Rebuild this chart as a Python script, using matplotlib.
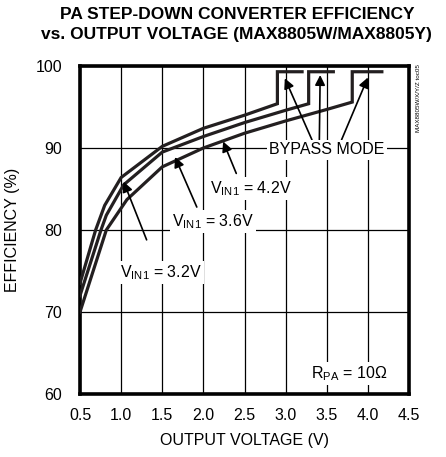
import matplotlib.pyplot as plt
import numpy as np

# efficiency curves
x_32 = [0.5, 0.69, 0.80, 1.0, 1.5, 2.0, 2.5, 2.9, 2.9, 3.2]
y_32 = [73.5, 80.0, 83.0, 86.4, 90.2, 92.4, 94.0, 95.4, 99.3, 99.3]
x_36 = [0.5, 0.755, 0.82, 1.03, 1.5, 2.0, 2.5, 3.0, 3.28, 3.28, 3.58]
y_36 = [72.0, 80.0, 81.8, 85.5, 89.5, 91.4, 93.1, 94.6, 95.4, 99.3, 99.3]
x_42 = [0.5, 0.82, 1.07, 1.5, 2.0, 2.5, 3.0, 3.5, 3.81, 3.81, 4.17]
y_42 = [70.0, 80.0, 83.7, 87.7, 90.0, 91.8, 93.3, 94.7, 95.6, 99.3, 99.3]

xticks = [0.5, 1.0, 1.5, 2.0, 2.5, 3.0, 3.5, 4.0, 4.5]
yticks = [60, 70, 80, 90, 100]

plt.rcParams['font.family'] = ['Liberation Sans', 'DejaVu Sans']
plt.rcParams['mathtext.fontset'] = 'custom'
plt.rcParams['mathtext.rm'] = 'Liberation Sans'

fig = plt.figure(figsize=(4.46, 4.57), dpi=100)
ax = fig.add_axes([80/446, 1-394/457, 329/446, 328/457])

for xs, ys in [(x_32, y_32), (x_36, y_36), (x_42, y_42)]:
    ax.plot(xs, ys, color='#231f20', lw=2.3, solid_joinstyle='miter', zorder=3)

ax.set_xlim(0.5, 4.5)
ax.set_ylim(60, 100)
ax.set_xticks(xticks)
ax.set_xticklabels(['%.1f' % v for v in xticks])
ax.set_yticks(yticks)
ax.tick_params(length=0, labelsize=11.5, pad=10)
ax.tick_params(axis='y', pad=13)
ax.grid(True, color='black', lw=0.9)
for s in ax.spines.values():
    s.set_linewidth(2.6)

ax.set_xlabel('OUTPUT VOLTAGE (V)', fontsize=11.5)
ax.xaxis.set_label_coords((245 - 80) / 329, -(433 - 394) / 328)
ax.set_ylabel('EFFICIENCY (%)', fontsize=11.5)
ax.yaxis.set_label_coords(-(80 - 20) / 329, (394 - 230) / 328)

fig.text(0.531, 0.985, 'PA STEP-DOWN CONVERTER EFFICIENCY\nvs. OUTPUT VOLTAGE (MAX8805W/MAX8805Y)',
         ha='center', va='top', fontsize=12.5, fontweight='bold', linespacing=1.4)

box = dict(facecolor='white', edgecolor='none', pad=1.5)
arw = dict(arrowstyle='-|>', color='black', lw=1.2, mutation_scale=15, shrinkA=0, shrinkB=0)

ax.annotate('', xy=(1.03, 85.9), xytext=(1.31, 78.8), arrowprops=arw, zorder=4)
ax.text(1.485, 74.8, r'V$_{\rm IN1}$ = 3.2V', fontsize=11.5, ha='center', va='center',
        bbox=box, zorder=5)
ax.annotate('', xy=(1.655, 88.9), xytext=(1.92, 82.8), arrowprops=arw, zorder=4)
ax.text(2.12, 81.0, r'V$_{\rm IN1}$ = 3.6V', fontsize=11.5, ha='center', va='center',
        bbox=box, zorder=5)
ax.annotate('', xy=(2.24, 90.8), xytext=(2.40, 86.9), arrowprops=arw, zorder=4)
ax.text(2.58, 85.1, r'V$_{\rm IN1}$ = 4.2V', fontsize=11.5, ha='center', va='center',
        bbox=box, zorder=5)

for tx, ty, sx in [(2.99, 98.5, 3.32), (3.42, 98.9, 3.41), (4.0, 98.6, 3.68)]:
    ax.annotate('', xy=(tx, ty), xytext=(sx, 91.0), arrowprops=arw, zorder=4)
ax.text(3.5, 89.76, 'BYPASS MODE', fontsize=11.5, ha='center', va='center', bbox=box, zorder=5)

ax.text(3.77, 62.5, r'R$_{\rm PA}$ = 10$\Omega$', fontsize=11.5, ha='center', va='center',
        bbox=box, zorder=5)

fig.text(419 / 446, 1 - 64 / 457, 'MAX8805W/X/Y/Z toc05', rotation=90, fontsize=4.5,
         ha='center', va='top')

fig.savefig('out.png', dpi=100)
